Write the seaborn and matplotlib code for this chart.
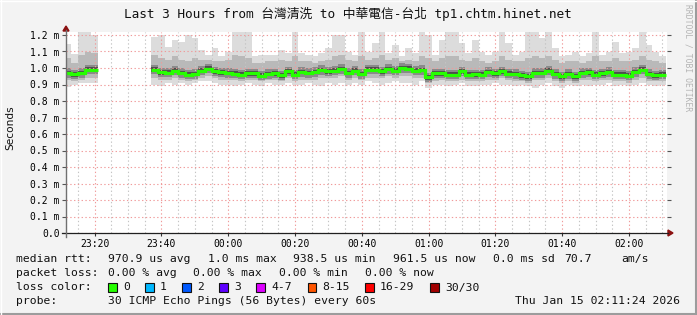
import numpy as np
import pandas as pd
import matplotlib
matplotlib.use("Agg")
import matplotlib.pyplot as plt
import seaborn as sns
from matplotlib.lines import Line2D
from matplotlib.patches import Rectangle, Polygon

W, H = 697, 315
BIN = 2  # minutes per consolidated step

# time of each step, minutes relative to 00:00 (negative = before midnight)
bin_start = list(range(-49, 130, BIN))

GAP = [None] * 8

median_ms = ([0.970, 0.962, 0.970, 0.990, 0.990] + GAP +
    [0.990, 0.974, 0.972, 0.984, 0.970, 0.960, 0.964, 0.984, 0.996, 0.980, 0.974, 0.970,
     0.966, 0.960, 0.968, 0.968, 0.954, 0.964, 0.968, 0.956, 0.980, 0.960, 0.976, 0.970,
     0.976, 0.988, 0.980, 0.984, 0.994, 0.970, 0.984, 0.964, 0.990, 0.990, 0.980, 0.994,
     0.984, 1.000, 0.996, 0.984, 0.988, 0.944, 0.968, 0.968, 0.960, 0.960, 0.980, 0.960,
     0.962, 0.960, 0.976, 0.968, 0.980, 0.966, 0.964, 0.956, 0.950, 0.970, 0.970, 0.984,
     0.964, 0.950, 0.964, 0.950, 0.970, 0.974, 0.960, 0.968, 0.976, 0.960, 0.960, 0.954,
     0.976, 0.990, 0.964, 0.956, 0.960])

ping_max = ([1.145, 1.085, 1.22, 1.22, 1.20] + GAP +
    [1.19, 1.20, 1.13, 1.17, 1.16, 1.20, 1.18, 1.11, 1.08, 1.12, 1.07, 1.10,
     1.22, 1.22, 1.22, 1.07, 1.08, 1.08, 1.08, 1.11, 1.09, 1.22, 1.09, 1.08,
     1.07, 1.09, 1.12, 1.20, 1.20, 1.10, 1.08, 1.22, 1.10, 1.15, 1.22, 1.09,
     1.14, 1.07, 1.12, 1.09, 1.22, 1.20, 1.08, 1.17, 1.22, 1.22, 1.15, 1.09,
     1.17, 1.10, 1.08, 1.10, 1.22, 1.15, 1.08, 1.10, 1.22, 1.22, 1.18, 1.22,
     1.12, 1.07, 1.08, 1.10, 1.07, 1.09, 1.22, 1.08, 1.10, 1.16, 1.09, 1.10,
     1.12, 1.22, 1.14, 1.10, 1.07])

ping_min = ([0.885, 0.900, 0.910, 0.910, 0.910] + GAP +
    [0.90, 0.89, 0.91, 0.90, 0.91, 0.90, 0.91, 0.92, 0.92, 0.91, 0.90, 0.90,
     0.89, 0.90, 0.91, 0.90, 0.89, 0.91, 0.90, 0.90, 0.91, 0.90, 0.90, 0.91,
     0.90, 0.89, 0.91, 0.90, 0.91, 0.90, 0.91, 0.90, 0.92, 0.91, 0.90, 0.91,
     0.92, 0.91, 0.91, 0.90, 0.92, 0.88, 0.90, 0.90, 0.89, 0.90, 0.91, 0.89,
     0.89, 0.90, 0.90, 0.91, 0.90, 0.90, 0.89, 0.90, 0.89, 0.88, 0.90, 0.91,
     0.89, 0.88, 0.90, 0.89, 0.90, 0.89, 0.90, 0.90, 0.91, 0.89, 0.90, 0.89,
     0.90, 0.91, 0.90, 0.89, 0.90])

upper_q = ([1.06, 1.03, 1.08, 1.10, 1.09] + GAP +
    [1.08, 1.06, 1.05, 1.07, 1.05, 1.04, 1.06, 1.05, 1.05, 1.04, 1.04, 1.05,
     1.08, 1.07, 1.06, 1.03, 1.03, 1.04, 1.04, 1.05, 1.04, 1.07, 1.04, 1.04,
     1.03, 1.04, 1.05, 1.07, 1.08, 1.05, 1.04, 1.07, 1.05, 1.06, 1.08, 1.05,
     1.06, 1.04, 1.05, 1.04, 1.07, 1.06, 1.04, 1.06, 1.07, 1.07, 1.05, 1.04,
     1.06, 1.04, 1.03, 1.04, 1.07, 1.05, 1.04, 1.04, 1.06, 1.07, 1.06, 1.07,
     1.05, 1.03, 1.04, 1.04, 1.03, 1.04, 1.07, 1.04, 1.04, 1.06, 1.04, 1.04,
     1.05, 1.07, 1.05, 1.04, 1.03])

lower_q = ([0.93, 0.92, 0.93, 0.94, 0.94] + GAP +
    [0.94, 0.93, 0.93, 0.94, 0.93, 0.92, 0.93, 0.94, 0.95, 0.94, 0.93, 0.93,
     0.93, 0.92, 0.93, 0.93, 0.92, 0.93, 0.93, 0.92, 0.94, 0.92, 0.93, 0.93,
     0.93, 0.94, 0.94, 0.94, 0.95, 0.93, 0.94, 0.93, 0.94, 0.94, 0.94, 0.95,
     0.94, 0.95, 0.95, 0.94, 0.94, 0.91, 0.92, 0.93, 0.92, 0.92, 0.93, 0.92,
     0.92, 0.92, 0.93, 0.93, 0.94, 0.93, 0.92, 0.92, 0.91, 0.93, 0.93, 0.94,
     0.92, 0.91, 0.92, 0.91, 0.93, 0.93, 0.92, 0.93, 0.93, 0.92, 0.92, 0.91,
     0.93, 0.94, 0.92, 0.92, 0.92])

x_ticks = [-40, -20, 0, 20, 40, 60, 80, 100, 120]
x_labels = ["23:20", "23:40", "00:00", "00:20", "00:40", "01:00", "01:20", "01:40", "02:00"]
y_ticks = [0.0, 0.1, 0.2, 0.3, 0.4, 0.5, 0.6, 0.7, 0.8, 0.9, 1.0, 1.1, 1.2]
y_labels = ["0.0", "0.1 m", "0.2 m", "0.3 m", "0.4 m", "0.5 m", "0.6 m", "0.7 m",
            "0.8 m", "0.9 m", "1.0 m", "1.1 m", "1.2 m"]

title = "Last 3 Hours from 台灣清洗 to 中華電信-台北 tp1.chtm.hinet.net"
loss_labels = ["0", "1", "2", "3", "4-7", "8-15", "16-29", "30/30"]
loss_colors = ["#26ff00", "#00b8ff", "#0059ff", "#5e00ff", "#dd00ff", "#ff5500", "#ff0000", "#a10000"]

# ---------------------------------------------------------------
MONO = ["DejaVu Sans Mono", "Noto Sans CJK TC"]

fig = plt.figure(figsize=(W / 100, H / 100), dpi=100, facecolor="#f3f3f3")
X0, X1, YB, YT = 66, 667, 233, 31.7
ax = fig.add_axes([X0 / W, 1 - YB / H, (X1 - X0) / W, (YB - YT) / H])
ax.set_facecolor("white")
ax.set_xlim(-48.6, 131.4)
ax.set_ylim(0, 1.22)
for s in ax.spines.values():
    s.set_visible(False)

df = pd.DataFrame({"t": bin_start, "median": median_ms, "pmax": ping_max,
                   "pmin": ping_min, "hi": upper_q, "lo": lower_q})
df = df.astype(float)
df["seg"] = df["median"].isna().cumsum()
runs = []
for seg, g in df.dropna().groupby("seg"):
    end = g.iloc[[-1]].copy()
    end["t"] = end["t"] + BIN
    runs.append(pd.concat([g, end]))
plot_df = pd.concat(runs, ignore_index=True)

# smoke shading (rendering widths around the median are style, in ms)
CORE1, CORE2 = 0.028, 0.014
for r in runs:
    ax.fill_between(r["t"], r["pmin"], r["pmax"], step="post", color="#dcdcdc", lw=0, zorder=1)
    ax.fill_between(r["t"], r["lo"], r["hi"], step="post", color="#b9b9b9", lw=0, zorder=1.1)
    ax.fill_between(r["t"], r["median"] - CORE1, r["median"] + CORE1, step="post",
                    color="#8a8a8a", lw=0, zorder=1.2)
    ax.fill_between(r["t"], r["median"] - CORE2, r["median"] + CORE2, step="post",
                    color="#4e4e4e", lw=0, zorder=1.3)

sns.lineplot(data=plot_df, x="t", y="median", units="seg", estimator=None,
             drawstyle="steps-post", color="#26ff00", lw=2.3, ax=ax, zorder=3, legend=False,
             solid_capstyle="butt", solid_joinstyle="miter")

# grid
ax.set_xticks(x_ticks)
ax.set_xticklabels(x_labels, family="DejaVu Sans Mono", fontsize=7)
ax.set_xticks(list(range(-45, 131, 5)), minor=True)
ax.set_yticks(y_ticks)
ax.set_yticklabels(y_labels, family="DejaVu Sans Mono", fontsize=7)
ax.set_axisbelow(False)
dots = (0, (1.2, 2.2))
ax.grid(which="minor", axis="x", color="#c4c4c4", ls=dots, lw=0.8, zorder=2.5)
ax.grid(which="major", axis="x", color="#f09a9a", ls=dots, lw=0.8, zorder=2.5)
ax.grid(which="major", axis="y", color="#f09a9a", ls=dots, lw=0.8, zorder=2.5)
ax.tick_params(axis="y", which="major", length=3, width=0.8, pad=1.5, color="#555555",
               right=True)
ax.tick_params(axis="x", which="major", length=2.5, width=0.8, pad=2, color="#333333")
ax.tick_params(axis="x", which="minor", length=0)
ax.set_xlabel("")
ax.set_ylabel("")

# axes lines with arrows (figure pixel coords)
def fx(px):
    return px / W

def fy(py):
    return 1 - py / H

fig.add_artist(Line2D([fx(62), fx(668)], [fy(233), fy(233)], color="#202020", lw=0.9))
fig.add_artist(Line2D([fx(66), fx(66)], [fy(237), fy(30)], color="#707070", lw=1.0))
fig.add_artist(Polygon([[fx(668), fy(230)], [fx(673), fy(233)], [fx(668), fy(236)]],
                       closed=True, color="#8b1010", transform=fig.transFigure))
fig.add_artist(Polygon([[fx(63), fy(31)], [fx(66), fy(26)], [fx(69), fy(31)]],
                       closed=True, color="#8b1010", transform=fig.transFigure))

# title, axis label, side text
fig.text(fx(348), fy(14), title, ha="center", va="center", fontsize=9.2, family=MONO, color="#111111")
fig.text(fx(10), fy(128), "Seconds", rotation=90, ha="center", va="center",
         fontsize=7.6, family="DejaVu Sans", color="#111111")
fig.text(fx(688), fy(4), "RRDTOOL / TOBI OETIKER", rotation=-90, ha="center", va="top",
         fontsize=5.8, family="DejaVu Sans Mono", color="#b4b4b4")

# legend rows
LF = dict(fontsize=8.2, family="DejaVu Sans Mono", color="#111111", va="center", ha="left")
row1 = [(16, "median rtt:"), (108, "970.9 us avg"), (207.5, "1.0 ms max"), (293, "938.5 us min"),
        (393, "961.5 us now"), (493, "0.0 ms sd"), (564, "70.7"), (621, "am/s")]
row2 = [(16, "packet loss:"), (108, "0.00 % avg"), (193, "0.00 % max"), (279, "0.00 % min"),
        (365, "0.00 % now")]
for x, s in row1:
    fig.text(fx(x), fy(259), s, **LF)
for x, s in row2:
    fig.text(fx(x), fy(273), s, **LF)
fig.text(fx(16), fy(287.5), "loss color:", **LF)
sq_x = [108, 145, 182, 219, 256, 307.5, 365, 430]
for x, lab, c in zip(sq_x, loss_labels, loss_colors):
    fig.add_artist(Rectangle((fx(x), fy(291.5)), 8.5 / W, 8.5 / H, facecolor=c,
                             edgecolor="#111111", lw=0.8, transform=fig.transFigure))
    fig.text(fx(x + 15), fy(287.5), lab, **LF)
fig.text(fx(16), fy(301.5), "probe:", **LF)
fig.text(fx(108), fy(301.5), "30 ICMP Echo Pings (56 Bytes) every 60s", **LF)
fig.text(fx(680), fy(301.5), "Thu Jan 15 02:11:24 2026",
         **{**LF, "ha": "right"})

# image frame
fig.add_artist(Line2D([0, 1], [fy(314), fy(314)], color="#9c9c9c", lw=1.5))
fig.add_artist(Line2D([fx(696), fx(696)], [0, 1], color="#9c9c9c", lw=1.5))
fig.add_artist(Line2D([0, 1], [fy(0.5), fy(0.5)], color="#ffffff", lw=1.0))
fig.add_artist(Line2D([fx(0.5), fx(0.5)], [0, 1], color="#ffffff", lw=1.0))

fig.savefig("out.png", dpi=100, facecolor=fig.get_facecolor())
